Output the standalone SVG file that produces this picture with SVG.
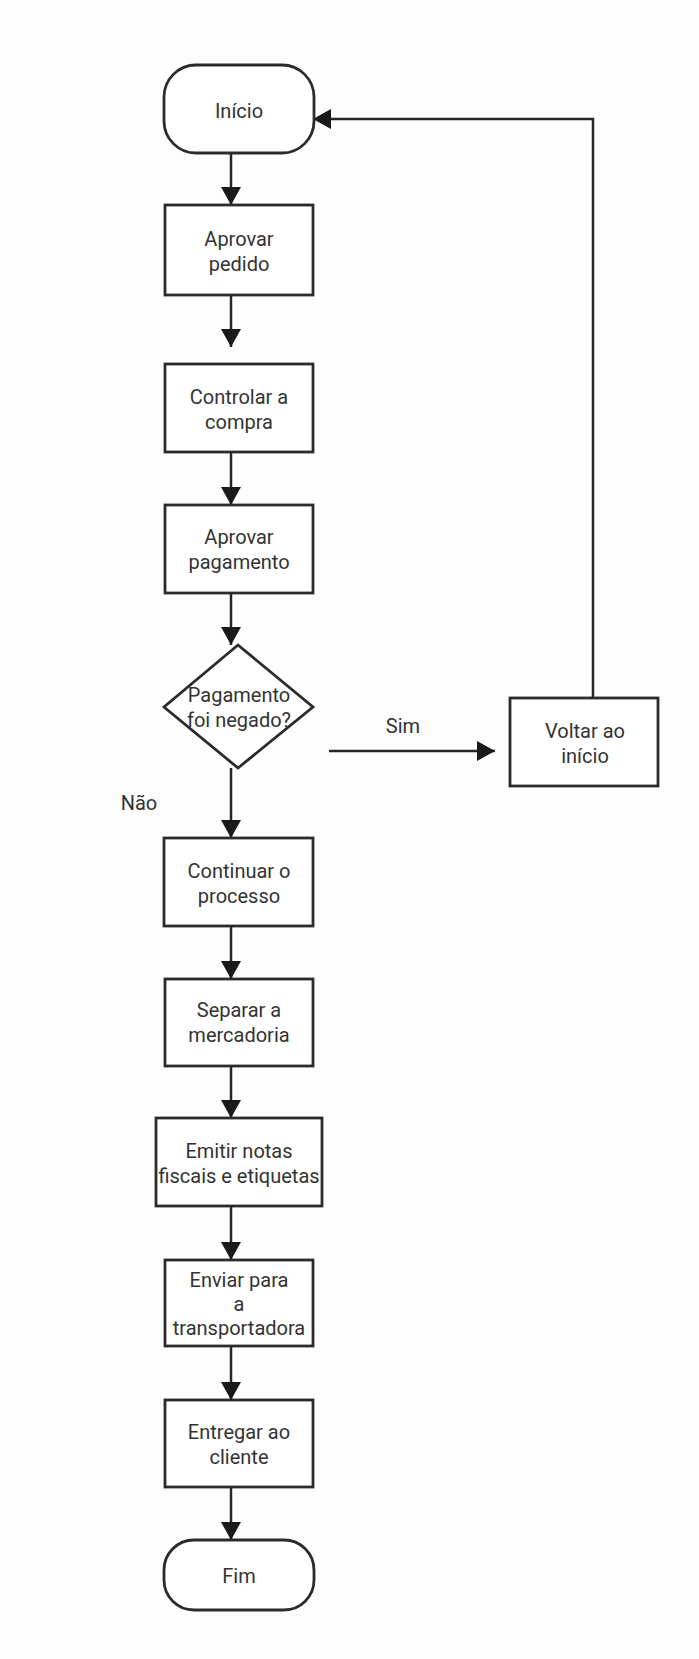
<svg xmlns="http://www.w3.org/2000/svg" width="699" height="1659" viewBox="0 0 699 1659">
<defs>
<style>
.box{fill:#ffffff;stroke:#2b2b2b;stroke-width:2.8}
.line{fill:none;stroke:#262626;stroke-width:2.5}
.t{font-family:Roboto,"Liberation Sans",sans-serif;font-size:20px;fill:#333333;text-anchor:middle}
</style>
<marker id="arr" viewBox="0 0 18 20" refX="18" refY="10" markerWidth="18" markerHeight="20" orient="auto" markerUnits="userSpaceOnUse">
<path d="M0,0 L18,10 L0,20 Z" fill="#1a1a1a"/>
</marker>
</defs>
<rect width="699" height="1659" fill="#fdfdfd"/>
<g id="connectors">
<line class="line" x1="231" y1="153" x2="231" y2="205" marker-end="url(#arr)"/>
<line class="line" x1="231" y1="295" x2="231" y2="347" marker-end="url(#arr)"/>
<line class="line" x1="231" y1="452" x2="231" y2="505" marker-end="url(#arr)"/>
<line class="line" x1="231" y1="593" x2="231" y2="645" marker-end="url(#arr)"/>
<line class="line" x1="231" y1="768" x2="231" y2="838" marker-end="url(#arr)"/>
<line class="line" x1="329" y1="751" x2="495" y2="751" marker-end="url(#arr)"/>
<polyline class="line" points="593,698 593,119 313,119" marker-end="url(#arr)"/>
<line class="line" x1="231" y1="926" x2="231" y2="979" marker-end="url(#arr)"/>
<line class="line" x1="231" y1="1066" x2="231" y2="1118" marker-end="url(#arr)"/>
<line class="line" x1="231" y1="1206" x2="231" y2="1260" marker-end="url(#arr)"/>
<line class="line" x1="231" y1="1346" x2="231" y2="1400" marker-end="url(#arr)"/>
<line class="line" x1="231" y1="1487" x2="231" y2="1540" marker-end="url(#arr)"/>
<text class="t" x="403" y="733">Sim</text>
<text class="t" x="139" y="810">Não</text>
</g>
<g id="inicio">
<rect class="box" x="164" y="65" width="150" height="88" rx="32" ry="32"/>
<text class="t" x="239" y="118">Início</text>
</g>
<g id="aprovar-pedido">
<rect class="box" x="165" y="205" width="148" height="90"/>
<text class="t" x="239" y="246">Aprovar</text>
<text class="t" x="239" y="271">pedido</text>
</g>
<g id="controlar">
<rect class="box" x="165" y="364" width="148" height="88"/>
<text class="t" x="239" y="404">Controlar a</text>
<text class="t" x="239" y="429">compra</text>
</g>
<g id="aprovar-pagamento">
<rect class="box" x="165" y="505" width="148" height="88"/>
<text class="t" x="239" y="544">Aprovar</text>
<text class="t" x="239" y="569">pagamento</text>
</g>
<g id="decisao">
<polygon class="box" points="238,645 313,707 238,768 164,707"/>
<text class="t" x="239" y="702">Pagamento</text>
<text class="t" x="239" y="727">foi negado?</text>
</g>
<g id="voltar">
<rect class="box" x="510" y="698" width="148" height="88"/>
<text class="t" x="585" y="738">Voltar ao</text>
<text class="t" x="585" y="763">início</text>
</g>
<g id="continuar">
<rect class="box" x="164" y="838" width="149" height="88"/>
<text class="t" x="239" y="878">Continuar o</text>
<text class="t" x="239" y="903">processo</text>
</g>
<g id="separar">
<rect class="box" x="165" y="979" width="148" height="87"/>
<text class="t" x="239" y="1017">Separar a</text>
<text class="t" x="239" y="1042">mercadoria</text>
</g>
<g id="emitir">
<rect class="box" x="156" y="1118" width="166" height="88"/>
<text class="t" x="239" y="1158">Emitir notas</text>
<text class="t" x="239" y="1183">fiscais e etiquetas</text>
</g>
<g id="enviar">
<rect class="box" x="165" y="1260" width="148" height="86"/>
<text class="t" x="239" y="1287">Enviar para</text>
<text class="t" x="239" y="1311">a</text>
<text class="t" x="239" y="1335">transportadora</text>
</g>
<g id="entregar">
<rect class="box" x="165" y="1400" width="148" height="87"/>
<text class="t" x="239" y="1439">Entregar ao</text>
<text class="t" x="239" y="1464">cliente</text>
</g>
<g id="fim">
<rect class="box" x="164" y="1540" width="150" height="70" rx="30" ry="30"/>
<text class="t" x="239" y="1583">Fim</text>
</g>
</svg>
